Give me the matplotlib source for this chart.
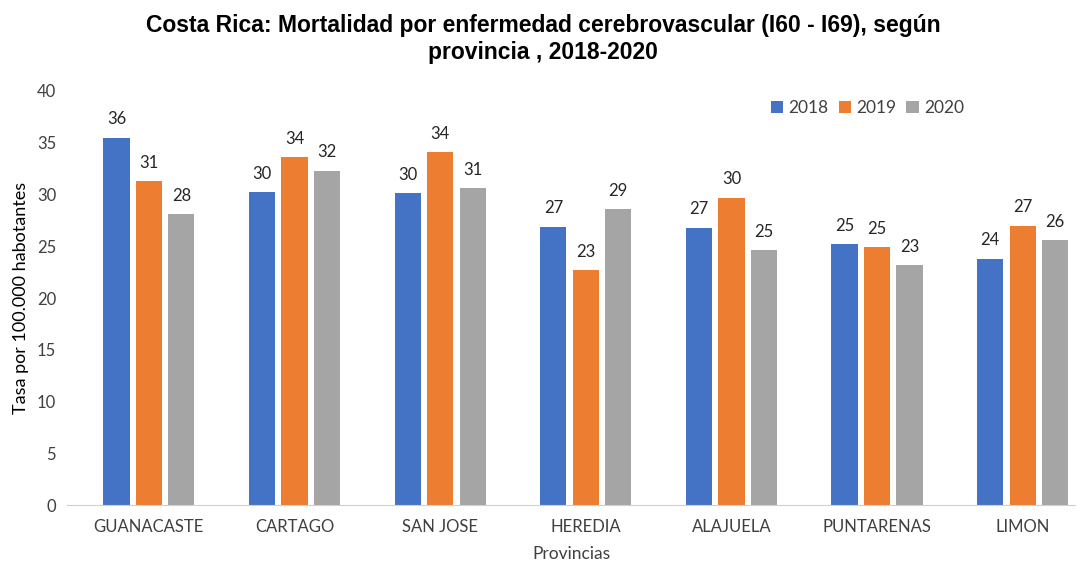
import matplotlib.pyplot as plt
import numpy as np

plt.rcParams["font.family"] = ["Lato", "DejaVu Sans"]

provincias = ["GUANACASTE", "CARTAGO", "SAN JOSE", "HEREDIA", "ALAJUELA", "PUNTARENAS", "LIMON"]
anios = ["2018", "2019", "2020"]
tasa_2018 = [35.5, 30.2, 30.1, 26.9, 26.8, 25.2, 23.8]
tasa_2019 = [31.3, 33.6, 34.1, 22.7, 29.7, 24.9, 27.0]
tasa_2020 = [28.1, 32.3, 30.6, 28.6, 24.6, 23.2, 25.6]
colores = ["#4472C4", "#ED7D31", "#A5A5A5"]

fig = plt.figure(figsize=(10.86, 5.61), dpi=100)
ax = fig.add_axes([0.062, 0.0998, 0.928, 0.738])

x = np.arange(len(provincias))
ancho = 0.18
paso = 0.223
for i, (serie, anio) in enumerate(zip([tasa_2018, tasa_2019, tasa_2020], anios)):
    barras = ax.bar(x + (i - 1) * paso, serie, ancho, color=colores[i], label=anio)
    for b, v in zip(barras, serie):
        ax.text(b.get_x() + b.get_width() / 2, v + 1.0, f"{v:.0f}",
                ha="center", va="bottom", fontsize=12, color="#262626")

ax.set_xlim(-0.56, 6.36)
ax.set_ylim(0, 40)
ax.set_yticks(range(0, 41, 5))
ax.set_xticks(x)
ax.set_xticklabels(provincias)
ax.tick_params(axis="both", length=0, labelsize=12, colors="#404040")
ax.tick_params(axis="x", pad=10)
ax.tick_params(axis="y", pad=8)
for lado in ["top", "right", "left"]:
    ax.spines[lado].set_visible(False)
ax.spines["bottom"].set_color("#D0D0D0")

ax.set_ylabel("Tasa por 100.000 habotantes", fontsize=13, color="#000000", labelpad=6)
ax.set_xlabel("Provincias", fontsize=12.5, color="#404040", labelpad=8)

fig.suptitle("Costa Rica: Mortalidad por enfermedad cerebrovascular (I60 - I69), según\nprovincia , 2018-2020",
             fontsize=16.5, fontweight="bold", family="Liberation Sans", y=0.975, linespacing=1.2)

ax.legend(loc="upper right", bbox_to_anchor=(0.905, 1.015), ncol=3, frameon=False,
          fontsize=12.5, handlelength=0.7, handleheight=0.7, handletextpad=0.3,
          columnspacing=0.6, labelcolor="#404040")

fig.savefig("out.png", dpi=100)
